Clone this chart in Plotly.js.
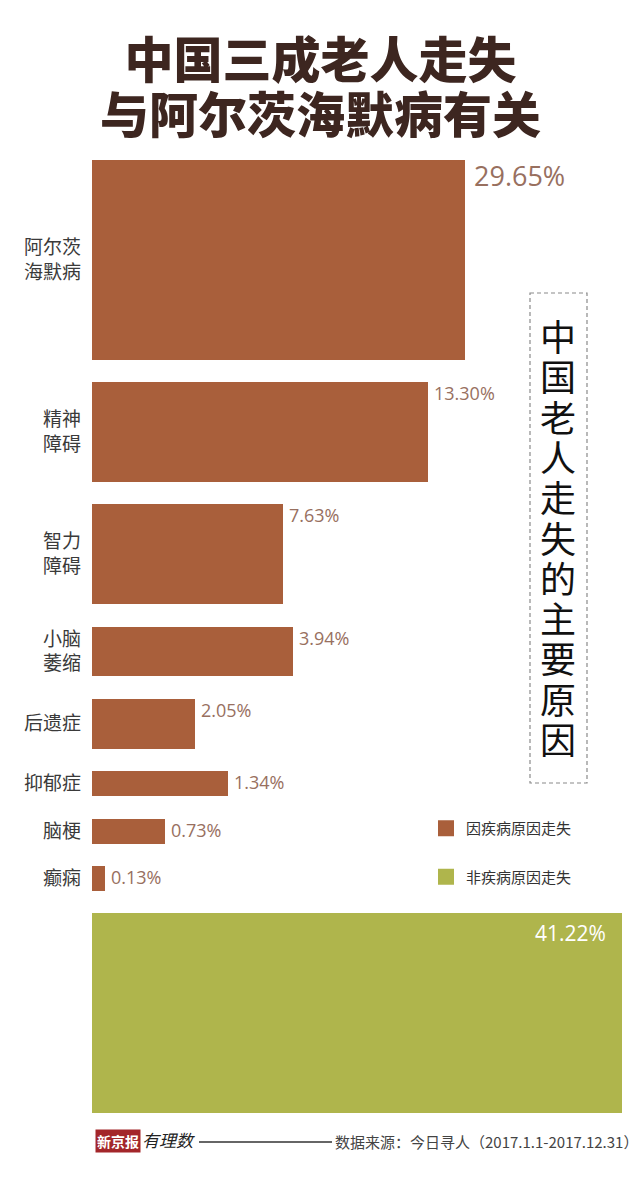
<!DOCTYPE html>
<html>
<head>
<meta charset="utf-8">
<script src="https://cdn.plot.ly/plotly-3.0.1.min.js"></script>
<style>html,body{margin:0;padding:0;background:#fff;}#chart{width:640px;height:1185px;}</style>
</head>
<body>
<div id="chart"></div>
<script>
// ---- data ----
const diseaseNames = ['阿尔茨<br>海默病', '精神<br>障碍', '智力<br>障碍', '小脑<br>萎缩', '后遗症', '抑郁症', '脑梗', '癫痫'];
const diseaseValues = [29.65, 13.30, 7.63, 3.94, 2.05, 1.34, 0.73, 0.13];
const diseaseBarLength = [70.4, 63.4, 36.0, 37.9, 19.4, 25.7, 13.8, 2.5];
const diseaseBarWeight = [8, 4, 4, 2, 2, 1, 1, 1];
const otherValue = [41.22];
const otherBarLength = [100];
const otherBarWeight = [8];
const legendNames = ['因疾病原因走失', '非疾病原因走失'];
const sideTitle = '中国老人走失的主要原因';
const titleLines = ['中国三成老人走失', '与阿尔茨海默病有关'];
const sourceText = '数据来源：今日寻人（2017.1.1-2017.12.31）';

// ---- layout helpers ----
const W = 640, H = 1185;
const M = {l: 92, r: 18, t: 160, b: 72};
const PW = W - M.l - M.r, PH = H - M.t - M.b;
const px2x = p => (p - M.l) / PW;
const px2y = p => (H - M.b - p) / PH;

const BROWN = '#A95F3B', GREEN = '#AFB54C', LABEL = '#98705F';
const CJK = '"Noto Sans CJK SC", "Noto Sans", sans-serif';

const allWeight = diseaseBarWeight.concat(otherBarWeight);
const gap = 0.9;
const centers = [], tops = [];
let pos = 0;
allWeight.forEach(w => { tops.push(pos); centers.push(pos + w / 2); pos += w + gap; });
const total = pos - gap;
const nD = diseaseValues.length;

const traces = [
  {type: 'bar', orientation: 'h', x: diseaseBarLength, y: centers.slice(0, nD),
   width: diseaseBarWeight, marker: {color: BROWN}, showlegend: false, hoverinfo: 'none'},
  {type: 'bar', orientation: 'h', x: otherBarLength, y: centers.slice(nD),
   width: otherBarWeight, marker: {color: GREEN}, showlegend: false, hoverinfo: 'none'},
  {type: 'scatter', mode: 'markers', x: [null], y: [null], name: legendNames[0], legendgroup: 'a',
   marker: {symbol: 'square', size: 18, color: BROWN}},
  {type: 'scatter', mode: 'markers', x: [null], y: [null], name: legendNames[1], legendgroup: 'b',
   marker: {symbol: 'square', size: 18, color: GREEN}}
];

const annotations = [];
// title: one text, two tightly set lines, centred on the page
annotations.push({
  x: px2x(W / 2), xref: 'paper', y: px2y(84), yref: 'paper', xanchor: 'center', yanchor: 'middle',
  text: titleLines.map(t => '<span style="font-size:49px">' + t + '</span>').join('<br>'),
  showarrow: false,
  font: {family: CJK, size: 42, color: '#3D2620', weight: 900}
});
diseaseValues.forEach((v, i) => {
  annotations.push({
    x: diseaseBarLength[i], y: tops[i], xref: 'x', yref: 'y',
    xanchor: 'left', yanchor: 'top', xshift: i === 0 ? 7 : 4, yshift: i === 0 ? 5 : 3,
    text: v.toFixed(2) + '%', showarrow: false,
    font: {family: 'Open Sans, sans-serif', size: i === 0 ? 27 : 18, color: LABEL}
  });
});
otherValue.forEach((v, i) => {
  annotations.push({
    x: otherBarLength[i], y: tops[nD + i], xref: 'x', yref: 'y',
    xanchor: 'right', yanchor: 'top', xshift: -14, yshift: -4,
    text: v.toFixed(2) + '%', showarrow: false,
    font: {family: 'Open Sans, sans-serif', size: 21, color: '#ffffff'}
  });
});
// vertical side title (one text, one character per line)
annotations.push({
  x: px2x(558), y: px2y(536), xref: 'paper', yref: 'paper', xanchor: 'center', yanchor: 'middle',
  text: Array.from(sideTitle).map(c => '<span style="font-size:36px">' + c + '</span>').join('<br>'),
  showarrow: false, font: {family: CJK, size: 31, color: '#111111'}
});
// footer
annotations.push({x: px2x(118), y: px2y(1141), xref: 'paper', yref: 'paper', xanchor: 'center', yanchor: 'middle',
  text: '<b>新京报</b>', showarrow: false, bgcolor: '#A3262A', borderpad: 1,
  font: {family: CJK, size: 14, color: '#ffffff'}});
annotations.push({x: px2x(168), y: px2y(1139), xref: 'paper', yref: 'paper', xanchor: 'center', yanchor: 'middle',
  text: '<i>有理数</i>', showarrow: false, font: {family: CJK, size: 17, color: '#222222'}});
annotations.push({x: px2x(333), y: px2y(1141), xref: 'paper', yref: 'paper', xanchor: 'left', yanchor: 'middle',
  text: sourceText, showarrow: false, font: {family: CJK, size: 15, color: '#444444'}});

const shapes = [
  {type: 'rect', xref: 'paper', yref: 'paper', x0: px2x(530), x1: px2x(587), y0: px2y(293), y1: px2y(783),
   line: {color: '#8a8a8a', width: 1.2, dash: '4px,3px'}},
  {type: 'line', xref: 'paper', yref: 'paper', x0: px2x(199), x1: px2x(332), y0: px2y(1142), y1: px2y(1142),
   line: {color: '#333333', width: 1.5}}
];

const layout = {
  width: W, height: H, margin: M,
  paper_bgcolor: '#ffffff', plot_bgcolor: '#ffffff',
  xaxis: {range: [0, 100], visible: false, fixedrange: true},
  yaxis: {range: [total, 0], tickvals: centers.slice(0, nD), ticktext: diseaseNames,
          showgrid: false, zeroline: false, showline: false, ticks: '', ticklabelstandoff: 10,
          tickfont: {family: CJK, size: 19, color: '#3a3a3a'}, fixedrange: true},
  barmode: 'overlay', bargap: 0,
  showlegend: true,
  legend: {x: px2x(426), y: px2y(812), xanchor: 'left', yanchor: 'top', traceorder: 'grouped',
           tracegroupgap: 26, bgcolor: 'rgba(0,0,0,0)',
           font: {family: CJK, size: 15, color: '#333333'}},
  annotations: annotations, shapes: shapes
};

Plotly.newPlot('chart', traces, layout, {staticPlot: true, displayModeBar: false});
</script>
</body>
</html>
